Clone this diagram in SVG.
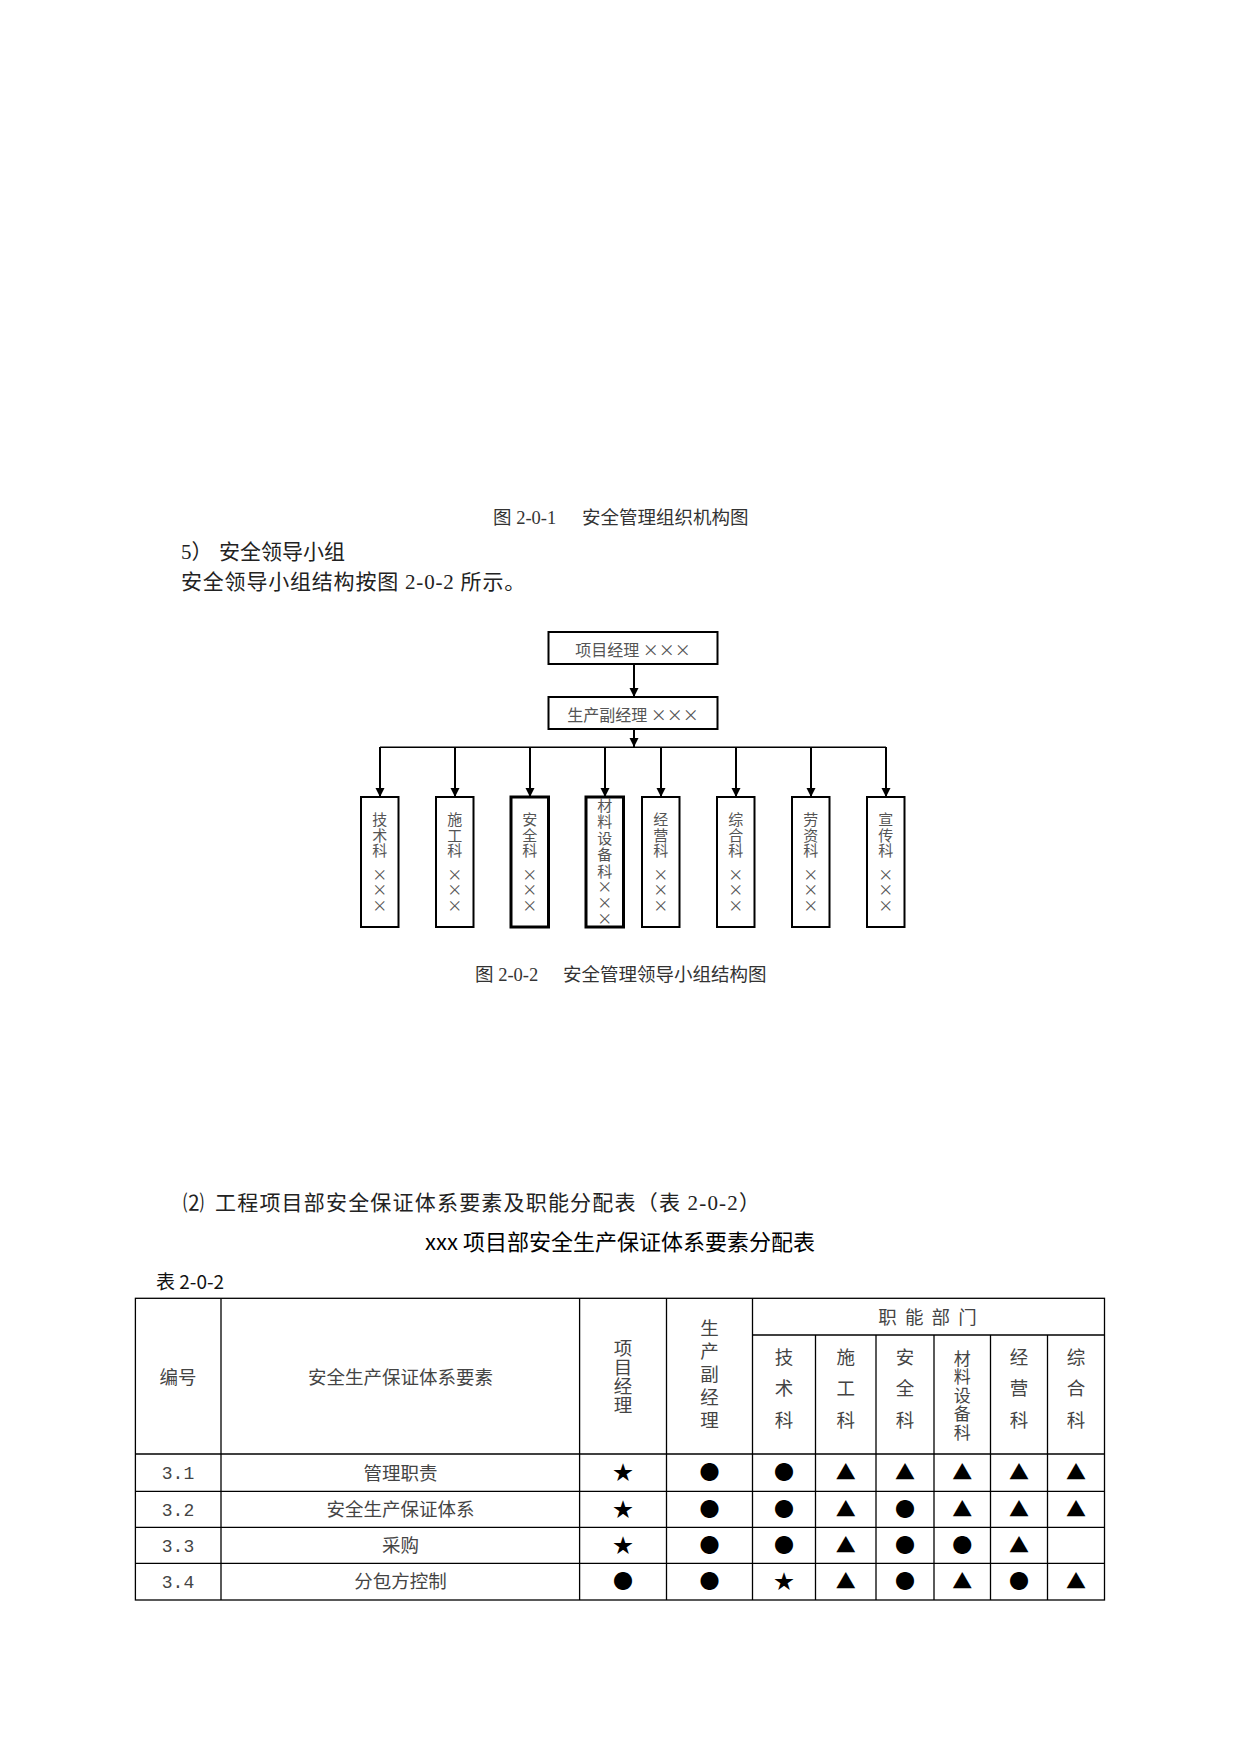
<svg xmlns="http://www.w3.org/2000/svg" width="1241" height="1754" viewBox="0 0 1241 1754">
<style>
.body{font-family:"Liberation Serif","Noto Sans CJK SC",serif;font-size:21px;fill:#222}
.cap{font-family:"Liberation Serif","Noto Sans CJK SC",serif;font-size:18.5px;fill:#333}
.org{font-family:"Noto Sans CJK SC",sans-serif;font-size:16px;fill:#555;text-anchor:middle}
.v{writing-mode:vertical-rl;text-orientation:upright;text-anchor:start}
.orgv{font-family:"Noto Sans CJK SC",sans-serif;font-size:15px;fill:#555;letter-spacing:0.5px}
.box{fill:#fff;stroke:#000;stroke-width:2}
.boxb{fill:#fff;stroke:#000;stroke-width:3}
.conn{stroke:#000;stroke-width:2;fill:none}
.hline{stroke:#000;stroke-width:1.5;fill:none}
.title{font-family:"Noto Sans CJK SC",sans-serif;font-size:22px;fill:#000;text-anchor:middle}
.tno{font-family:"Noto Sans CJK SC",sans-serif;font-size:19px;fill:#111}
.tb{font-family:"Noto Sans CJK SC",sans-serif;font-size:18.5px;fill:#444;text-anchor:middle}
.tbv{font-family:"Noto Sans CJK SC",sans-serif;font-size:18.5px;fill:#444}
.num{font-family:"Liberation Mono",monospace;font-size:18px;fill:#444;text-anchor:middle}
.sym{font-family:"Noto Sans CJK SC",sans-serif;font-size:20px;fill:#000;text-anchor:middle}
.grid{stroke:#000;stroke-width:1.3;fill:none}
</style>
<defs>
<marker id="arr" markerUnits="userSpaceOnUse" markerWidth="9" markerHeight="10" refX="9" refY="4.5" orient="auto">
<path d="M0,0 L9,4.5 L0,9 z" fill="#000"/>
</marker>
</defs>
<rect width="1241" height="1754" fill="#fff"/>

<!-- text above chart -->
<text class="cap" xml:space="preserve"><tspan x="493" y="524">图 2-0-1</tspan><tspan x="582" y="524">安全管理组织机构图</tspan></text>
<text class="body"><tspan x="181" y="558.5">5）</tspan><tspan x="219" y="558.5">安全领导小组</tspan></text>
<text class="body" x="181" y="588.5" letter-spacing="0.8">安全领导小组结构按图 2-0-2 所示。</text>

<!-- connectors -->
<g id="connectors">
<line class="conn" x1="634" y1="664" x2="634" y2="697" marker-end="url(#arr)"/>
<line class="conn" x1="634" y1="729" x2="634" y2="747" marker-end="url(#arr)"/>
<line class="hline" x1="380" y1="747.3" x2="886" y2="747.3"/>
<line class="conn" x1="380" y1="747" x2="380" y2="797" marker-end="url(#arr)"/>
<line class="conn" x1="455" y1="747" x2="455" y2="797" marker-end="url(#arr)"/>
<line class="conn" x1="530" y1="747" x2="530" y2="797" marker-end="url(#arr)"/>
<line class="conn" x1="605" y1="747" x2="605" y2="797" marker-end="url(#arr)"/>
<line class="conn" x1="661" y1="747" x2="661" y2="797" marker-end="url(#arr)"/>
<line class="conn" x1="736" y1="747" x2="736" y2="797" marker-end="url(#arr)"/>
<line class="conn" x1="811" y1="747" x2="811" y2="797" marker-end="url(#arr)"/>
<line class="conn" x1="886" y1="747" x2="886" y2="797" marker-end="url(#arr)"/>
</g>

<!-- nodes -->
<g id="pm">
<rect class="box" x="548.5" y="632" width="169" height="32"/>
<text class="org" x="633" y="656">项目经理 ×××</text>
</g>
<g id="dpm">
<rect class="box" x="548.5" y="697" width="169" height="32"/>
<text class="org" x="633" y="721">生产副经理 ×××</text>
</g>
<g id="d1">
<rect class="box" x="361" y="797" width="37.5" height="130"/>
<text class="orgv v" x="379.8" y="812">技术科</text>
<text class="orgv v" x="379.8" y="866.5">×××</text>
</g>
<g id="d2">
<rect class="box" x="436" y="797" width="37.5" height="130"/>
<text class="orgv v" x="454.8" y="812">施工科</text>
<text class="orgv v" x="454.8" y="866.5">×××</text>
</g>
<g id="d3">
<rect class="boxb" x="511" y="797" width="37.5" height="130"/>
<text class="orgv v" x="529.8" y="812">安全科</text>
<text class="orgv v" x="529.8" y="866.5">×××</text>
</g>
<g id="d4">
<rect class="boxb" x="586" y="797" width="37.5" height="130"/>
<text class="orgv v" x="604.8" y="797.5" style="letter-spacing:1.5px">材料设备科</text>
<text class="orgv v" x="604.8" y="879" style="letter-spacing:1px">×××</text>
</g>
<g id="d5">
<rect class="box" x="642" y="797" width="37.5" height="130"/>
<text class="orgv v" x="660.8" y="812">经营科</text>
<text class="orgv v" x="660.8" y="866.5">×××</text>
</g>
<g id="d6">
<rect class="box" x="717" y="797" width="37.5" height="130"/>
<text class="orgv v" x="735.8" y="812">综合科</text>
<text class="orgv v" x="735.8" y="866.5">×××</text>
</g>
<g id="d7">
<rect class="box" x="792" y="797" width="37.5" height="130"/>
<text class="orgv v" x="810.8" y="812">劳资科</text>
<text class="orgv v" x="810.8" y="866.5">×××</text>
</g>
<g id="d8">
<rect class="box" x="867" y="797" width="37.5" height="130"/>
<text class="orgv v" x="885.8" y="812">宣传科</text>
<text class="orgv v" x="885.8" y="866.5">×××</text>
</g>

<text class="cap" xml:space="preserve"><tspan x="475" y="980.5">图 2-0-2</tspan><tspan x="563" y="980.5">安全管理领导小组结构图</tspan></text>

<!-- section heading -->
<text class="body"><tspan x="183" y="1209.5">⑵</tspan><tspan x="215" y="1209.5" textLength="545" lengthAdjust="spacing">工程项目部安全保证体系要素及职能分配表（表 2-0-2）</tspan></text>
<text class="title" x="620" y="1250">xxx 项目部安全生产保证体系要素分配表</text>
<text class="tno" x="156" y="1289">表 2-0-2</text>

<!-- table grid -->
<g id="table-grid">
<rect class="grid" x="135.4" y="1298.3" width="969.1" height="301.7"/>
<line class="grid" x1="752.5" y1="1335" x2="1104.5" y2="1335"/>
<line class="grid" x1="135.4" y1="1454" x2="1104.5" y2="1454"/>
<line class="grid" x1="135.4" y1="1491.3" x2="1104.5" y2="1491.3"/>
<line class="grid" x1="135.4" y1="1527.3" x2="1104.5" y2="1527.3"/>
<line class="grid" x1="135.4" y1="1563.3" x2="1104.5" y2="1563.3"/>
<line class="grid" x1="221" y1="1298.3" x2="221" y2="1600"/>
<line class="grid" x1="579.6" y1="1298.3" x2="579.6" y2="1600"/>
<line class="grid" x1="666.5" y1="1298.3" x2="666.5" y2="1600"/>
<line class="grid" x1="752.5" y1="1298.3" x2="752.5" y2="1600"/>
<line class="grid" x1="815.5" y1="1335" x2="815.5" y2="1600"/>
<line class="grid" x1="876" y1="1335" x2="876" y2="1600"/>
<line class="grid" x1="934" y1="1335" x2="934" y2="1600"/>
<line class="grid" x1="990.5" y1="1335" x2="990.5" y2="1600"/>
<line class="grid" x1="1047.5" y1="1335" x2="1047.5" y2="1600"/>
</g>

<!-- table header -->
<g id="table-header">
<text class="tb" x="178" y="1384">编号</text>
<text class="tb" x="400.5" y="1384">安全生产保证体系要素</text>
<text class="tbv v" x="623" y="1338.5" style="letter-spacing:0.5px">项目经理</text>
<text class="tbv v" x="709.5" y="1318.5" style="letter-spacing:4.5px">生产副经理</text>
<text class="tb" x="928.5" y="1324" letter-spacing="2">职 能 部 门</text>
<text class="tbv v" x="784" y="1347.5" style="letter-spacing:13px">技术科</text>
<text class="tbv v" x="845.8" y="1347.5" style="letter-spacing:13px">施工科</text>
<text class="tbv v" x="905" y="1347.5" style="letter-spacing:13px">安全科</text>
<text class="tbv v" x="962.3" y="1350" style="font-size:17px;letter-spacing:1.5px">材料设备科</text>
<text class="tbv v" x="1019" y="1347.5" style="letter-spacing:13px">经营科</text>
<text class="tbv v" x="1076" y="1347.5" style="letter-spacing:13px">综合科</text>
</g>

<!-- table body -->
<g id="table-body">
<text class="num" x="178" y="1479">3.1</text>
<text class="num" x="178" y="1515.5">3.2</text>
<text class="num" x="178" y="1551.5">3.3</text>
<text class="num" x="178" y="1587.5">3.4</text>
<text class="tb" x="400.5" y="1479.5">管理职责</text>
<text class="tb" x="400.5" y="1516">安全生产保证体系</text>
<text class="tb" x="400.5" y="1552">采购</text>
<text class="tb" x="400.5" y="1588">分包方控制</text>

<text class="sym" y="1480"><tspan x="623">★</tspan><tspan x="709.5">●</tspan><tspan x="784">●</tspan><tspan x="845.8">▲</tspan><tspan x="905">▲</tspan><tspan x="962.3">▲</tspan><tspan x="1019">▲</tspan><tspan x="1076">▲</tspan></text>
<text class="sym" y="1516.5"><tspan x="623">★</tspan><tspan x="709.5">●</tspan><tspan x="784">●</tspan><tspan x="845.8">▲</tspan><tspan x="905">●</tspan><tspan x="962.3">▲</tspan><tspan x="1019">▲</tspan><tspan x="1076">▲</tspan></text>
<text class="sym" y="1552.5"><tspan x="623">★</tspan><tspan x="709.5">●</tspan><tspan x="784">●</tspan><tspan x="845.8">▲</tspan><tspan x="905">●</tspan><tspan x="962.3">●</tspan><tspan x="1019">▲</tspan></text>
<text class="sym" y="1588.5"><tspan x="623">●</tspan><tspan x="709.5">●</tspan><tspan x="784">★</tspan><tspan x="845.8">▲</tspan><tspan x="905">●</tspan><tspan x="962.3">▲</tspan><tspan x="1019">●</tspan><tspan x="1076">▲</tspan></text>
</g>
</svg>
